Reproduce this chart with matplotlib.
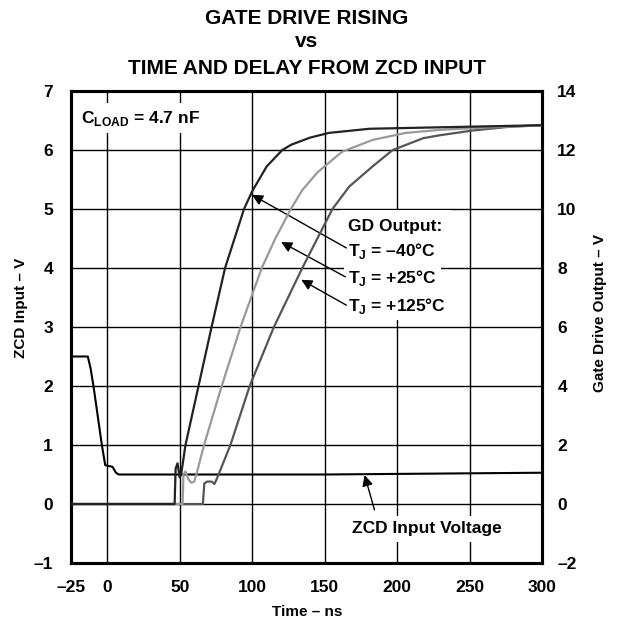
import matplotlib
matplotlib.use("Agg")
import matplotlib.pyplot as plt

plt.rcParams['font.family'] = ['Liberation Sans', 'DejaVu Sans']
plt.rcParams['font.weight'] = 'bold'
plt.rcParams['mathtext.fontset'] = 'custom'
plt.rcParams['mathtext.rm'] = 'Liberation Sans:bold'
plt.rcParams['mathtext.bf'] = 'Liberation Sans:bold'
plt.rcParams['axes.unicode_minus'] = True

# ---- data ----
x_ticks = [-25, 0, 50, 100, 150, 200, 250, 300]
left_ticks = [-1, 0, 1, 2, 3, 4, 5, 6, 7]
right_ticks = [-2, 0, 2, 4, 6, 8, 10, 12, 14]

zcd_t = [-25, -13.4, -11.5, -9.5, -3.7, -1.4, 0, 3.7, 6, 8, 20, 50, 100, 150, 200, 250, 300]
zcd_v = [2.5, 2.5, 2.3, 2.0, 1.0, 0.66, 0.65, 0.63, 0.53, 0.5, 0.5, 0.5, 0.5, 0.5, 0.51, 0.52, 0.53]

gd_m40_t = [-25, 46.5, 47.2, 48.5, 50, 51, 54, 63, 72, 81.3, 94.4, 100, 110, 120.8, 127, 140, 153, 181, 220, 260, 300]
gd_m40_v = [0, 0, 1.2, 1.38, 0.9, 1.0, 2.0, 4.0, 6.0, 8.0, 10.0, 10.6, 11.44, 12.0, 12.18, 12.42, 12.58, 12.72, 12.76, 12.8, 12.84]

gd_p25_t = [-25, 52, 52.6, 54, 56, 58, 60, 61.5, 66.8, 79, 92, 106.6, 116, 126.7, 134.6, 145, 162, 183, 206, 229, 260, 300]
gd_p25_v = [0, 0, 1.0, 1.1, 0.84, 0.72, 0.76, 1.0, 2.0, 4.0, 6.0, 8.0, 9.0, 10.0, 10.64, 11.24, 11.94, 12.34, 12.58, 12.68, 12.76, 12.84]

gd_p125_t = [-25, 66, 67, 69, 72, 74, 76, 85, 98.3, 115, 134.6, 155.4, 167, 183, 197, 218, 229.5, 252, 276, 300]
gd_p125_v = [0, 0, 0.7, 0.76, 0.76, 0.68, 0.9, 2.0, 4.0, 6.0, 8.0, 10.0, 10.76, 11.44, 12.0, 12.4, 12.5, 12.66, 12.78, 12.84]

W, H = 617, 628
fig = plt.figure(figsize=(W / 100, H / 100), dpi=100)
L, R, T, B = 71, 542, 91, 563
ax = fig.add_axes([L / W, 1 - B / H, (R - L) / W, (B - T) / H])
ax.set_xlim(-25, 300)
ax.set_ylim(-1, 7)
ax.set_xticks(x_ticks)
ax.set_yticks(left_ticks)
ax.set_xticklabels([f"{v}".replace('-', '–') for v in x_ticks])
ax.set_yticklabels([f"{v}".replace('-', '–') for v in left_ticks])
ax.grid(True, color='black', lw=1.0)
ax.set_axisbelow(True)
for s in ax.spines.values():
    s.set_linewidth(2.2)
ax.tick_params(axis='both', length=0, labelsize=12.5)
ax.tick_params(axis='x', pad=12)
ax.tick_params(axis='y', pad=13)

ax2 = ax.twinx()
ax2.set_ylim(-2, 14)
ax2.set_yticks(right_ticks)
ax2.set_yticklabels([f"{v}".replace('-', '–') for v in right_ticks])
ax2.tick_params(axis='y', length=0, labelsize=12.5, pad=11)
for s in ax2.spines.values():
    s.set_linewidth(2.2)

ax.plot(zcd_t, zcd_v, color='black', lw=1.5, zorder=3)
ax2.plot(gd_p125_t, gd_p125_v, color='#555555', lw=1.6, zorder=3)
ax2.plot(gd_p25_t, gd_p25_v, color='#999999', lw=1.6, zorder=3)
ax2.plot(gd_m40_t, gd_m40_v, color='#222222', lw=1.6, zorder=3)

box = dict(facecolor='white', edgecolor='none', pad=4)
ax.text(-17.8, 6.46, r"$\mathbf{C}_{\mathbf{LOAD}}$ = 4.7 nF", fontsize=12.5,
        fontweight='bold', ha='left', va='baseline', bbox=box, zorder=5)
ax.text(166.4, 4.63, "GD Output:", fontsize=12.5, fontweight='bold',
        ha='left', va='baseline', zorder=5,
        bbox=dict(facecolor='white', edgecolor='none', pad=6))
labels_tj = [r"$\mathbf{T}_{\mathbf{J}}$ = –40°C", r"$\mathbf{T}_{\mathbf{J}}$ = +25°C",
             r"$\mathbf{T}_{\mathbf{J}}$ = +125°C"]
ys_tj = [4.20, 3.75, 3.27]
for lab, yy in zip(labels_tj, ys_tj):
    ax.text(166.4, yy, lab, fontsize=12.5, fontweight='bold', ha='left',
            va='baseline', zorder=5, bbox=dict(facecolor='white', edgecolor='none', pad=3))

arrow = dict(arrowstyle='-|>', color='black', lw=1.0, mutation_scale=16, shrinkA=0, shrinkB=0)
ax.annotate("", xy=(99.9, 5.24), xytext=(165, 4.34), arrowprops=arrow, zorder=6)
ax.annotate("", xy=(120, 4.44), xytext=(164.3, 3.85), arrowprops=arrow, zorder=6)
ax.annotate("", xy=(133.9, 3.80), xytext=(165, 3.37), arrowprops=arrow, zorder=6)
ax.annotate("", xy=(177.6, 0.49), xytext=(184.4, -0.10), arrowprops=arrow, zorder=6)
ax.text(220.5, -0.497, "ZCD Input Voltage", fontsize=12.5, fontweight='bold',
        ha='center', va='baseline', bbox=box, zorder=5)

fig.text(307 / W, 1 - 24 / H, "GATE DRIVE RISING", fontsize=15, fontweight='bold',
         ha='center', va='baseline')
fig.text(307 / W, 1 - 46.7 / H, "vs", fontsize=15, fontweight='bold',
         ha='center', va='baseline')
fig.text(307 / W, 1 - 74 / H, "TIME AND DELAY FROM ZCD INPUT", fontsize=15,
         fontweight='bold', ha='center', va='baseline')

fig.text(307 / W, 1 - 612 / H, "Time – ns", fontsize=11, fontweight='bold',
         ha='center', va='center')
fig.text(21 / W, 1 - 308 / H, "ZCD Input – V", fontsize=11, fontweight='bold',
         ha='center', va='center', rotation=90)
fig.text(600 / W, 1 - 313 / H, "Gate Drive Output – V", fontsize=11, fontweight='bold',
         ha='center', va='center', rotation=90)

fig.savefig("out.png", dpi=100)
